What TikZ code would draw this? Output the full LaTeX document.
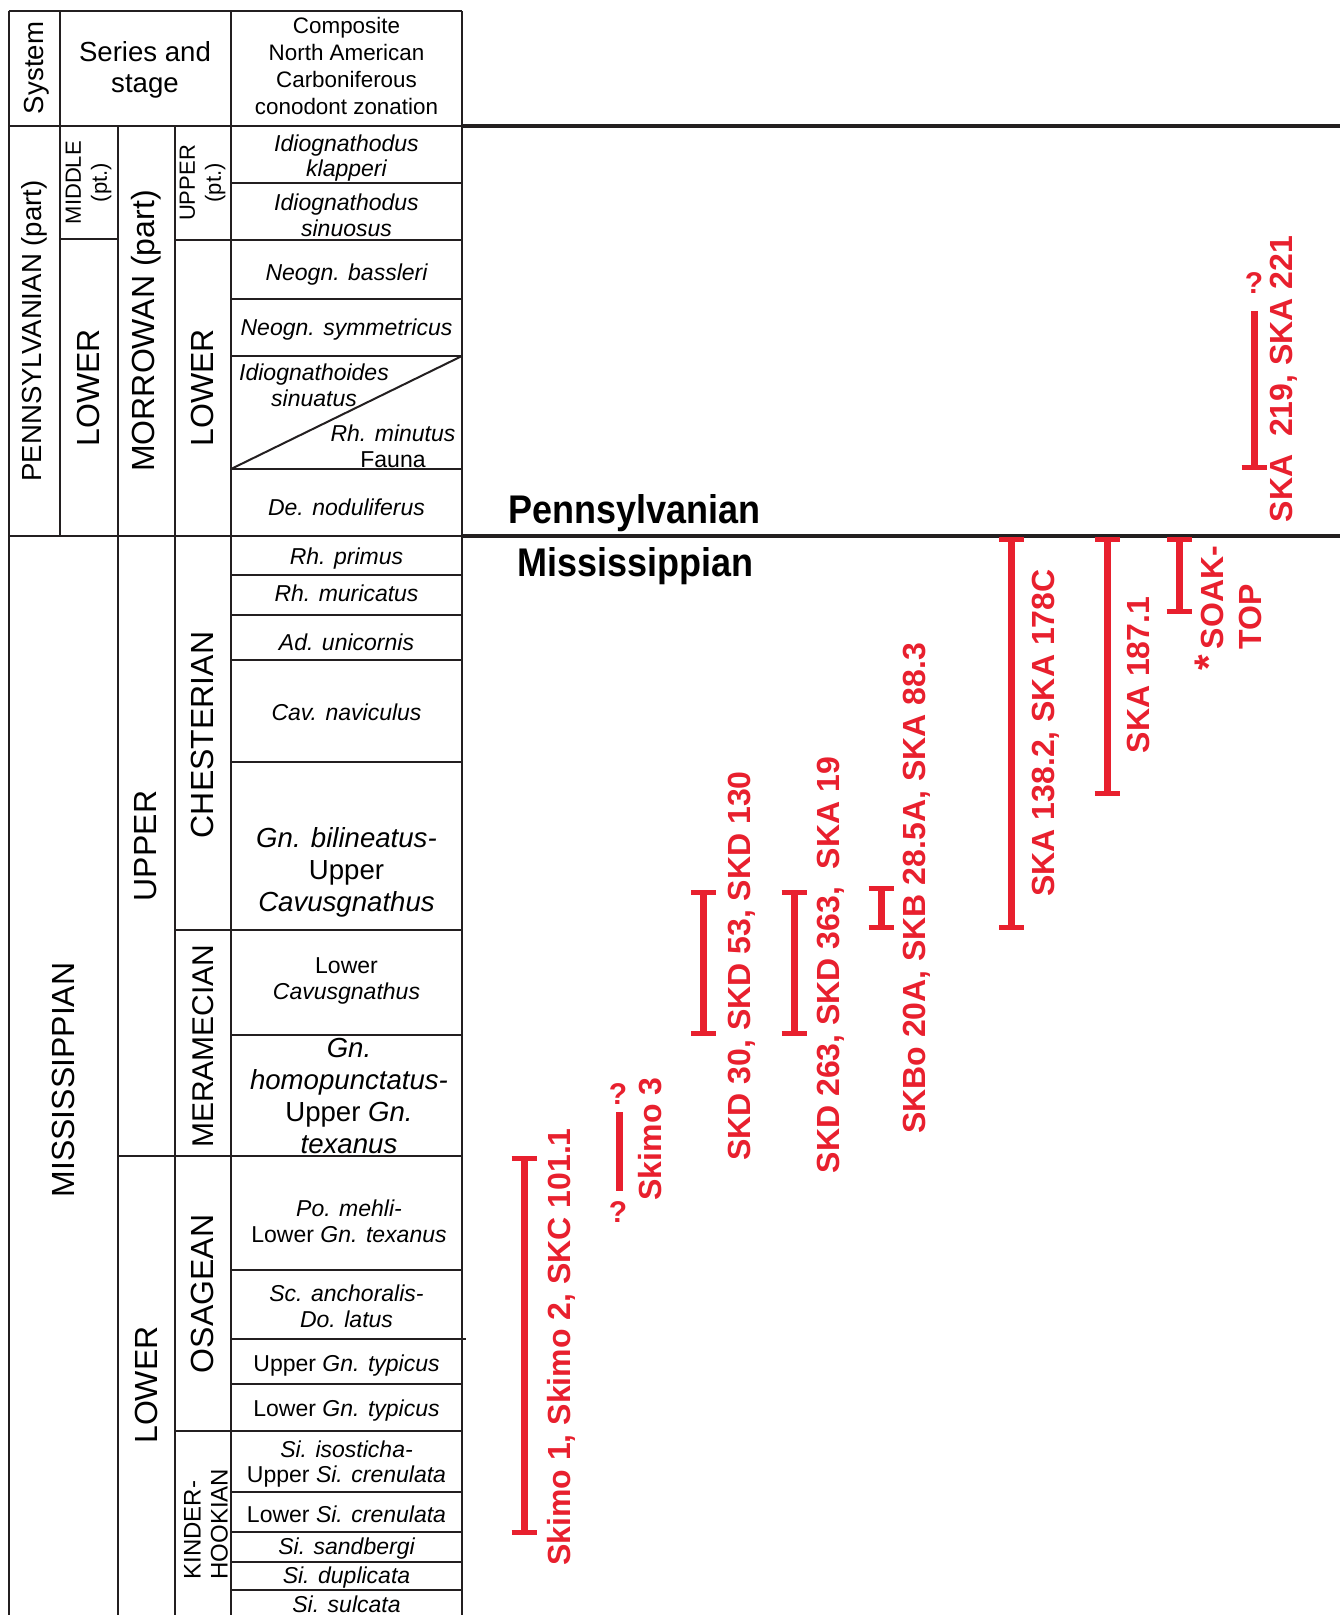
\documentclass[tikz,border=0pt]{standalone}
\usepackage{fontspec}
\usepackage{tikz}
\setmainfont{Liberation Sans}
\newfontfamily\condsans[FakeStretch=0.9]{Liberation Sans}
\definecolor{skred}{RGB}{232,32,46}
\definecolor{rulegray}{RGB}{35,31,32}

\begin{document}
\begin{tikzpicture}[x=0.5pt, y=-0.5pt,
    tabline/.style={draw=rulegray, line width=1pt},
    epochline/.style={draw=rulegray, line width=2pt},
    head/.style={font=\fontsize{13.8}{15.5}\selectfont, align=center, inner sep=0pt},
    unitbig/.style={rotate=90, font=\fontsize{16}{19}\selectfont, inner sep=0pt},
    unitsmall/.style={rotate=90, font=\fontsize{11}{13}\selectfont, align=center, inner sep=0pt},
    zone/.style={font=\itshape\fontsize{11.5}{12.9}\selectfont, align=center, inner sep=0pt},
    zonebig/.style={font=\itshape\fontsize{13.8}{16}\selectfont, align=center, inner sep=0pt},
    sample/.style={rotate=90, text=skred, font=\bfseries\fontsize{16}{19}\selectfont, align=center, inner sep=0pt},
    query/.style={text=skred, font=\bfseries\fontsize{15}{17}\selectfont, inner sep=0pt},
    systemlab/.style={font=\condsans\bfseries\fontsize{20}{23}\selectfont, anchor=base west, inner sep=0pt},
    rangebar/.style={draw=skred, line width=3.5pt},
    rangecap/.style={draw=skred, line width=2.5pt}]
    \useasboundingbox (0,0) rectangle (1340,1615);

    % Table frame
    \draw[tabline] (8.5,11.5) -- (462,11.5);
    \draw[tabline] (8.5,11.5) -- (8.5,1615);
    \draw[tabline] (462,11.5) -- (462,1615);
    \draw[tabline] (231,11.5) -- (231,1615);
    \draw[tabline] (59.5,11.5) -- (59.5,536);
    \draw[tabline] (117.5,126.5) -- (117.5,1615);
    \draw[tabline] (174.5,126.5) -- (174.5,1615);
    \draw[tabline] (8.5,126.5) -- (462,126.5);
    \draw[tabline] (8.5,536) -- (462,536);

    % Series / stage boundaries
    \draw[tabline] (59.5,239) -- (117.5,239);
    \draw[tabline] (174.5,240) -- (231,240);
    \draw[tabline] (117.5,1155.7) -- (231,1155.7);
    \foreach \yy in {930,1431}
        \draw[tabline] (174.5,\yy) -- (231,\yy);

    % Zone boundaries
    \foreach \yy in {183,240,299,356,469,575,615,660,762,930,1035,1155.7,1270,1384,1431,1491.5,1531.5,1561.5,1589.5}
        \draw[tabline] (231,\yy) -- (462,\yy);
    \draw[tabline] (231,1339) -- (466,1339);
    \draw[tabline] (231,469) -- (462,356);

    % Long boundaries across the range chart
    \draw[epochline] (462,126.5) -- (1340,126.5);
    \draw[epochline] (462,536) -- (1340,536);

    % Header
    \node[head, rotate=90] (hsys) at (37,68) {System};
    \node[head] (hser) at (145,70) {Series and\\stage};
    \node[head, font=\fontsize{11.2}{13.5}\selectfont] (hzon) at (346.5,66) {Composite\\North American\\Carboniferous\\conodont zonation};

    % Pennsylvanian units
    \node[unitbig, font=\fontsize{13.8}{16}\selectfont] (penn) at (34,331) {PENNSYLVANIAN (part)};
    \node[unitsmall] (pmid) at (88.5,182.7) {MIDDLE\\(pt.)};
    \node[unitbig] (plow) at (88.5,388) {LOWER};
    \node[unitbig] (morr) at (146,331) {MORROWAN (part)};
    \node[unitsmall] (mupp) at (202.7,183) {UPPER\\(pt.)};
    \node[unitbig] (mlow) at (202.7,388) {LOWER};

    % Mississippian units
    \node[unitbig] (miss) at (63,1080) {MISSISSIPPIAN};
    \node[unitbig] (supper) at (146,846) {UPPER};
    \node[unitbig] (slower) at (146,1385) {LOWER};
    \node[unitbig] (chest) at (202.7,735) {CHESTERIAN};
    \node[unitbig, font=\fontsize{15}{18}\selectfont] (meram) at (202.7,1046) {MERAMECIAN};
    \node[unitbig] (osage) at (202.7,1294) {OSAGEAN};
    \node[unitsmall, align=left, font=\fontsize{12}{13.5}\selectfont] (kind) at (206,1524) {KINDER-\\HOOKIAN};

    % Conodont zones
    \node[zone] (zklap) at (346.5,158) {Idiognathodus\\klapperi};
    \node[zone] (zsinu) at (346.5,215) {Idiognathodus\\sinuosus};
    \node[zone] (zbass) at (346.5,275) {Neogn. bassleri};
    \node[zone] (zsymm) at (346.5,330) {Neogn. symmetricus};
    \node[zone] (zsinua) at (314,385.5) {Idiognathoides\\sinuatus};
    \node[zone] (zminu) at (393,446) {Rh. minutus\\\textup{Fauna}};
    \node[zone] (znodu) at (346.5,507) {De. noduliferus};
    \node[zone] (zprim) at (346.5,559) {Rh. primus};
    \node[zone] (zmuri) at (346.5,593) {Rh. muricatus};
    \node[zone] (zunic) at (346.5,642) {Ad. unicornis};
    \node[zone] (znavi) at (346.5,712) {Cav. naviculus};
    \node[zonebig] (zbili) at (346.5,872) {Gn. bilineatus-\\\textup{Upper}\\Cavusgnathus};
    \node[zone] (zlcav) at (346.5,981) {\textup{Lower}\\Cavusgnathus};
    \node[zonebig] (zhomo) at (349,1096) {Gn.\\homopunctatus-\\\textup{Upper} Gn.\\texanus};
    \node[zone] (zmehl) at (349,1221) {Po. mehli-\\\textup{Lower} Gn. texanus};
    \node[zone] (zanch) at (346.5,1306) {Sc. anchoralis-\\Do. latus};
    \node[zone] (zutyp) at (346.5,1366) {\textup{Upper} Gn. typicus};
    \node[zone] (zltyp) at (346.5,1411) {\textup{Lower} Gn. typicus};
    \node[zone] (ziso) at (346.5,1464) {Si. isosticha-\\\textup{Upper} Si. crenulata};
    \node[zone] (zlcre) at (346.5,1514) {\textup{Lower} Si. crenulata};
    \node[zone] (zsand) at (346.5,1549) {Si. sandbergi};
    \node[zone] (zdupl) at (346.5,1578) {Si. duplicata};
    \node[zone] (zsulc) at (346.5,1604) {Si. sulcata};

    % System labels of the range chart
    \node[systemlab] (pennlab) at (508,523) {Pennsylvanian};
    \node[systemlab] (misslab) at (517,576) {Mississippian};

    % Sample ranges (capped at both ends)
    \foreach \xb/\ya/\yb in {524/1158/1532, 703.5/892/1033, 794/892/1033, 881/888/927, 1011.5/539/927, 1107/539/793, 1179/539/611} {
        \draw[rangebar] (\xb,\ya) -- (\xb,\yb);
        \draw[rangecap] (\xb-12.5,\ya) -- (\xb+12.5,\ya);
        \draw[rangecap] (\xb-12.5,\yb) -- (\xb+12.5,\yb);
    }
    % open-ended ranges
    \draw[rangebar] (619,1112) -- (619,1191);
    \draw[rangebar] (1254,311) -- (1254,467);
    \draw[rangecap] (1241.5,467) -- (1266.5,467);
    \node[query] (q3top) at (618,1094) {?};
    \node[query] (q3bot) at (618,1212.5) {?};
    \node[query] (q219) at (1254,283) {?};

    % Sample labels
    \node[sample] (skimo12) at (561,1347) {Skimo 1, Skimo 2, SKC 101.1};
    \node[sample] (skimo3) at (650,1139) {Skimo 3};
    \node[sample] (skd30) at (741.6,966) {SKD 30, SKD 53, SKD 130};
    \node[sample] (skd263) at (831,965) {SKD 263, SKD 363,\ \ SKA 19};
    \node[sample] (skbo) at (917,888.5) {SKBo 20A, SKB 28.5A, SKA 88.3};
    \node[sample] (ska138) at (1045.5,733) {SKA 138.2, SKA 178C};
    \node[sample] (ska187) at (1138,675) {SKA 187.1};
    \node[sample, font=\bfseries\fontsize{20}{24}\selectfont] (soakstar) at (1209,663) {*};
    \node[sample, align=left] (soak) at (1231,597.5) {SOAK-\\TOP};
    \node[sample] (ska219) at (1284,379) {SKA\ \ 219, SKA 221};
\end{tikzpicture}
\end{document}
